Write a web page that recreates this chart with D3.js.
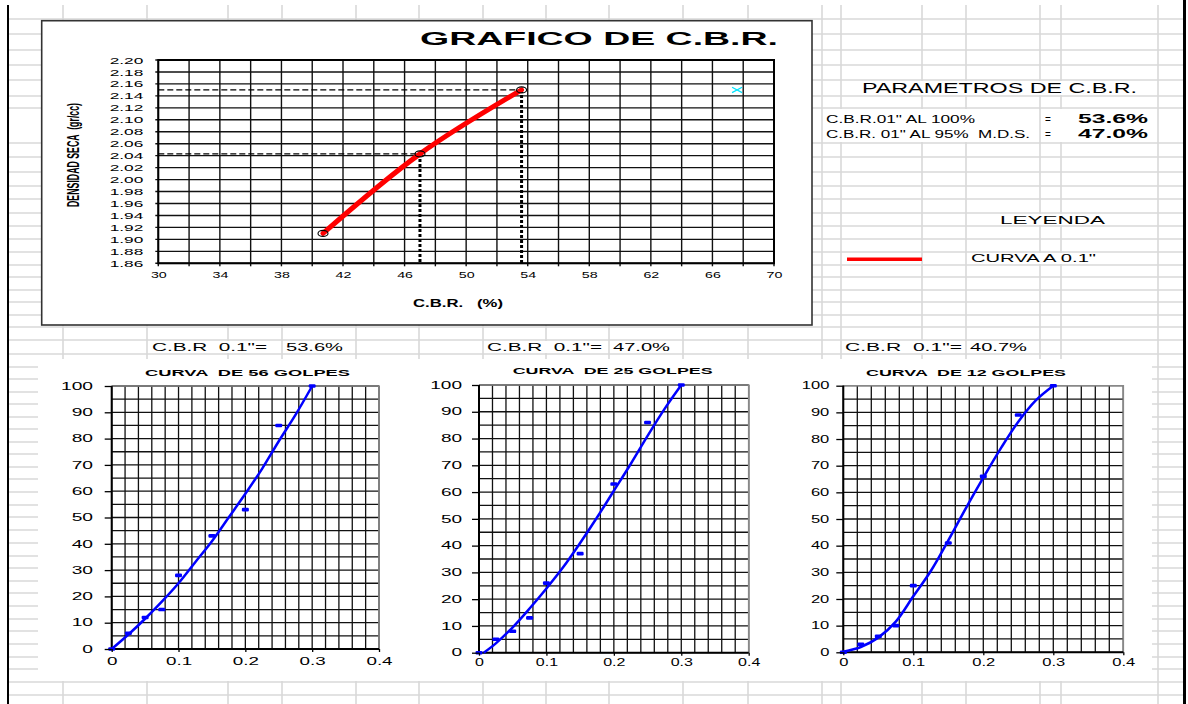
<!DOCTYPE html>
<html><head><meta charset="utf-8">
<script src="https://cdn.jsdelivr.net/npm/d3@7"></script>
<style>body{margin:0;background:#fff}svg{display:block}text{white-space:pre}</style>
</head><body>
<svg id="c" width="1188" height="704"></svg>
<script>
// ---------------- DATA ----------------
const cbrPoints = [40.7, 47.0, 53.6];          // C.B.R. (%) at 0.1"
const densityPoints = [1.910, 2.043, 2.150];   // densidad seca (gr/cc)
const cbr100 = 53.6, cbr95 = 47.0;
const densityMax = 2.150, density95 = 2.043;
const strayMarker = [67.6, 2.150];
const topXTicks = [30, 34, 38, 42, 46, 50, 54, 58, 62, 66, 70];
const topYTicks = [1.86, 1.88, 1.90, 1.92, 1.94, 1.96, 1.98, 2.00, 2.02, 2.04, 2.06, 2.08, 2.10, 2.12, 2.14, 2.16, 2.18, 2.20];

const penetration = [0, 0.025, 0.05, 0.075, 0.1, 0.15, 0.2, 0.25, 0.3];
const load56 = [0, 6, 12, 15, 28, 43, 53, 85, 100];
const load25 = [0, 5, 8, 13, 26, 37, 63, 86, 100];
const load12 = [0, 3, 6, 10, 25, 41, 66, 89, 100];

const fitX = [0, 0.025, 0.05, 0.075, 0.1, 0.125, 0.15, 0.175, 0.2, 0.225, 0.25, 0.275, 0.3];
const fitX25 = [0.007, 0.025, 0.05, 0.075, 0.1, 0.125, 0.15, 0.175, 0.2, 0.225, 0.25, 0.275, 0.3];
const fit56 = [0, 5.5, 11.5, 18, 25, 33, 41, 50, 59, 68.5, 79, 89, 100];
const fit25 = [0, 3.5, 9.5, 16.5, 24, 32, 41, 50.5, 60.5, 70.5, 81, 91, 100];
const fit12 = [0.2, 2, 5.5, 11.5, 21, 30.5, 42, 54, 65.5, 76.5, 86.5, 94.5, 100];

const bottomXTicks = [0, 0.1, 0.2, 0.3, 0.4];
const bottomYTicks = [0, 10, 20, 30, 40, 50, 60, 70, 80, 90, 100];
const cbrResults = ["53.6%", "47.0%", "40.7%"];
const golpes = ["56", "25", "12"];

// ---------------- LAYOUT ----------------
const FONT = '"Liberation Sans", Arial, Helvetica, sans-serif';
const sheetCols = [63,147,228,282,356,419,483,546,609,683,748,822,841,922,966,1040,1061,1158];
const sheetRows = [19,34,50,65,80,96,108,143,157,172,186,199,213,226,239,252,265,277,290,302,315,327,340,354,367,379,392,404,417,429,442,454,467,479,492,505,517,530,543,556,568,581,593,606,619,631,644,657,669,682,695];

const svg = d3.select('#c');

function fitW(sel, w) { return sel.attr('textLength', w).attr('lengthAdjust', 'spacingAndGlyphs'); }
function stretch(sel, k) {
  sel.each(function () {
    const w = this.getComputedTextLength();
    if (w > 0) { this.setAttribute('textLength', (w * k).toFixed(2)); this.setAttribute('lengthAdjust', 'spacingAndGlyphs'); }
  });
}
function label(x, y, txt, size, weight, w, anchor) {
  const t = svg.append('text').attr('x', x).attr('y', y).text(txt)
    .attr('font-size', size).attr('font-weight', weight || 'normal')
    .attr('font-family', FONT).attr('fill', '#000').attr('text-anchor', anchor || 'start');
  if (w) fitW(t, w);
  return t;
}

// ---------------- SHEET BACKGROUND ----------------
const sheet = svg.append('g');
sheet.selectAll('line.c').data(sheetCols).join('line')
  .attr('x1', d => d).attr('x2', d => d).attr('y1', 5).attr('y2', 704)
  .attr('stroke', '#d9d9d9').attr('stroke-width', 1.6);
sheet.selectAll('line.r').data(sheetRows).join('line')
  .attr('x1', 8).attr('x2', 1183).attr('y1', d => d).attr('y2', d => d)
  .attr('stroke', '#d9d9d9').attr('stroke-width', 1.6);

// cell text backgrounds (overflow text hides grid)
[[842, 81, 315, 14], [823, 109, 334, 33], [967, 214, 190, 11], [967, 253, 190, 11],
 [148, 341, 133, 12], [484, 341, 124, 12], [842, 341, 123, 12]].forEach(r => {
  svg.append('rect').attr('x', r[0]).attr('y', r[1]).attr('width', r[2]).attr('height', r[3]).attr('fill', '#fff');
});
svg.append('line').attr('x1', 1040).attr('x2', 1040).attr('y1', 108).attr('y2', 143)
  .attr('stroke', '#d9d9d9').attr('stroke-width', 1.6);

// chart objects
svg.append('rect').attr('x', 41.7).attr('y', 20.7).attr('width', 770.3).attr('height', 304.3)
  .attr('fill', '#fff').attr('stroke', '#333').attr('stroke-width', 1.6);
svg.append('rect').attr('x', 38).attr('y', 359).attr('width', 1114).attr('height', 322).attr('fill', '#fff');

// sheet edges
svg.append('line').attr('x1', 8).attr('x2', 8).attr('y1', 5).attr('y2', 704).attr('stroke', '#000').attr('stroke-width', 2);
svg.append('line').attr('x1', 1184.5).attr('x2', 1184.5).attr('y1', 0).attr('y2', 704).attr('stroke', '#000').attr('stroke-width', 3);

// ---------------- TOP CHART ----------------
const T = { l: 158.3, r: 774, t: 60, b: 263.3 };
const xT = d3.scaleLinear().domain([30, 70]).range([T.l, T.r]);
const yT = d3.scaleLinear().domain([1.86, 2.20]).range([T.b, T.t]);
const topG = svg.append('g');
topG.selectAll('line.v').data(xT.ticks(20)).join('line')
  .attr('x1', d => xT(d)).attr('x2', d => xT(d)).attr('y1', T.t).attr('y2', T.b + 3)
  .attr('stroke', '#111').attr('stroke-width', 1.4);
topG.selectAll('line.h').data(yT.ticks(17)).join('line')
  .attr('x1', T.l - 3).attr('x2', T.r).attr('y1', d => yT(d)).attr('y2', d => yT(d))
  .attr('stroke', '#111').attr('stroke-width', 1.4);
topG.append('rect').attr('x', T.l).attr('y', T.t).attr('width', T.r - T.l).attr('height', T.b - T.t)
  .attr('fill', 'none').attr('stroke', '#000').attr('stroke-width', 2);

const yAxT = svg.append('g').attr('transform', `translate(${T.l},0)`)
  .call(d3.axisLeft(yT).tickValues(topYTicks).tickFormat(d3.format('.2f')).tickSize(0).tickPadding(15));
yAxT.select('.domain').remove();
yAxT.selectAll('text').attr('font-size', 9.5).attr('font-family', FONT).attr('fill', '#000').call(stretch, 1.82);

const xAxT = svg.append('g').attr('transform', `translate(0,${T.b})`)
  .call(d3.axisBottom(xT).tickValues(topXTicks).tickFormat(d3.format('d')).tickSize(0).tickPadding(7.5));
xAxT.select('.domain').remove();
xAxT.selectAll('text').attr('font-size', 9.5).attr('font-family', FONT).attr('fill', '#000').call(stretch, 1.5);

// reference lines
topG.append('line').attr('x1', T.l).attr('x2', xT(cbr100)).attr('y1', yT(densityMax)).attr('y2', yT(densityMax))
  .attr('stroke', '#000').attr('stroke-width', 1.2).attr('stroke-dasharray', '6,3');
topG.append('line').attr('x1', T.l).attr('x2', xT(cbr95)).attr('y1', yT(density95)).attr('y2', yT(density95))
  .attr('stroke', '#000').attr('stroke-width', 1.2).attr('stroke-dasharray', '6,3');
topG.append('line').attr('x1', xT(cbr95)).attr('x2', xT(cbr95)).attr('y1', yT(density95)).attr('y2', T.b)
  .attr('stroke', '#000').attr('stroke-width', 3).attr('stroke-dasharray', '3,2');
topG.append('line').attr('x1', xT(cbr100)).attr('x2', xT(cbr100)).attr('y1', yT(densityMax)).attr('y2', T.b)
  .attr('stroke', '#000').attr('stroke-width', 3).attr('stroke-dasharray', '3,2');

// red curve
const topPts = cbrPoints.map((c, i) => [c, densityPoints[i]]);
topG.append('path').datum(topPts)
  .attr('d', d3.line().x(d => xT(d[0])).y(d => yT(d[1])).curve(d3.curveCatmullRom.alpha(0.5)))
  .attr('fill', 'none').attr('stroke', '#ff0000').attr('stroke-width', 5).attr('stroke-linecap', 'round');
topG.selectAll('ellipse').data(topPts).join('ellipse')
  .attr('cx', d => xT(d[0])).attr('cy', d => yT(d[1])).attr('rx', 5).attr('ry', 3)
  .attr('fill', 'none').attr('stroke', '#000').attr('stroke-width', 1.1);
// stray cyan marker
const sx = xT(strayMarker[0]), sy = yT(strayMarker[1]);
topG.append('path').attr('d', `M${sx - 5},${sy - 2.7}L${sx + 5},${sy + 2.7}M${sx - 5},${sy + 2.7}L${sx + 5},${sy - 2.7}`)
  .attr('stroke', '#00e5ff').attr('stroke-width', 1.2).attr('fill', 'none');

// titles
label(420, 45, 'GRAFICO DE C.B.R.', 18.6, 'bold', 358);
label(413, 307.3, 'C.B.R.   (%)', 10, 'bold', 90);
label(0, 0, 'DENSIDAD SECA  (gr/cc)', 17, 'bold', 104, 'middle')
  .attr('transform', 'translate(79,155) rotate(-90)');

// ---------------- RIGHT PANEL ----------------
label(862, 93, 'PARAMETROS DE C.B.R.', 14, 'normal', 275);
label(826, 122.7, 'C.B.R.01" AL 100%', 10, 'normal', 149);
label(1045, 122.7, '=', 10, 'normal');
label(1078, 123.3, cbrResults[0], 12.6, 'bold', 70);
label(826, 138.3, 'C.B.R. 01" AL 95%  M.D.S.', 10, 'normal', 204);
label(1045, 138.3, '=', 10, 'normal');
label(1078, 138.3, cbrResults[1], 12.6, 'bold', 70);
label(1000, 224, 'LEYENDA', 11.7, 'normal', 105);
svg.append('line').attr('x1', 847).attr('x2', 922).attr('y1', 259.3).attr('y2', 259.3)
  .attr('stroke', '#ff0000').attr('stroke-width', 3.4);
label(971, 262.3, 'CURVA A 0.1"', 10, 'normal', 125);

// ---------------- BOTTOM CHARTS ----------------
const charts = [
  { l: 111.7, r: 379, t: 386, b: 649, load: load56, fx: fitX, fit: fit56, titleX: 145, titleW: 205, titleY: 375.5,
    cbrX: 152, cbrW: 115, valX: 286, yPad: 11.7, yK: 1.92, xK: 1.88, xLabY: 661 },
  { l: 479, r: 748.7, t: 385, b: 652.7, load: load25, fx: fitX25, fit: fit25, titleX: 512.7, titleW: 200, titleY: 373.5,
    cbrX: 487, cbrW: 115, valX: 613, yPad: 10, yK: 1.9, xK: 1.6, xLabY: 662.3 },
  { l: 843.3, r: 1123.3, t: 385.7, b: 652.3, load: load12, fx: fitX, fit: fit12, titleX: 866, titleW: 200, titleY: 375.5,
    cbrX: 845, cbrW: 117, valX: 970, yPad: 7, yK: 1.65, xK: 1.65, xLabY: 662.3 }
];

charts.forEach((cfg, i) => {
  const x = d3.scaleLinear().domain([0, 0.4]).range([cfg.l, cfg.r]);
  const y = d3.scaleLinear().domain([0, 100]).range([cfg.b, cfg.t]);
  const g = svg.append('g');
  g.selectAll('line.v').data(x.ticks(20)).join('line')
    .attr('x1', d => x(d)).attr('x2', d => x(d)).attr('y1', cfg.t).attr('y2', cfg.b)
    .attr('stroke', '#111').attr('stroke-width', 1.3);
  g.selectAll('line.h').data(y.ticks(20)).join('line')
    .attr('x1', cfg.l).attr('x2', cfg.r).attr('y1', d => y(d)).attr('y2', d => y(d))
    .attr('stroke', '#111').attr('stroke-width', 1.3);
  g.append('path').attr('d', `M${cfg.l},${cfg.t}H${cfg.r}V${cfg.b}`)
    .attr('fill', 'none').attr('stroke', '#888').attr('stroke-width', 1.6);
  g.append('path').attr('d', `M${cfg.l},${cfg.t}V${cfg.b}H${cfg.r}`)
    .attr('fill', 'none').attr('stroke', '#000').attr('stroke-width', 2);

  const ya = svg.append('g').attr('transform', `translate(${cfg.l},0)`)
    .call(d3.axisLeft(y).tickValues(bottomYTicks).tickFormat(d3.format('d')).tickSize(7).tickPadding(cfg.yPad));
  ya.select('.domain').remove();
  ya.selectAll('line').attr('stroke', '#000').attr('stroke-width', 1.3);
  ya.selectAll('text').attr('font-size', 10).attr('font-family', FONT).attr('fill', '#000').call(stretch, cfg.yK);

  const xPad = cfg.xLabY + 3.6 - cfg.b - 3 - 7.1;
  const xa = svg.append('g').attr('transform', `translate(0,${cfg.b})`)
    .call(d3.axisBottom(x).tickValues(bottomXTicks).tickFormat(d3.format('~g')).tickSize(3).tickPadding(xPad));
  xa.select('.domain').remove();
  xa.selectAll('line').attr('stroke', '#000').attr('stroke-width', 1.3);
  xa.selectAll('text').attr('font-size', 10).attr('font-family', FONT).attr('fill', '#000').call(stretch, cfg.xK);

  // fitted curve
  const fitPts = cfg.fx.map((v, j) => [v, cfg.fit[j]]);
  g.append('path').datum(fitPts)
    .attr('d', d3.line().x(d => x(d[0])).y(d => y(d[1])).curve(d3.curveCatmullRom.alpha(0.5)))
    .attr('fill', 'none').attr('stroke', '#0000ff').attr('stroke-width', 2.5);
  // measured points
  const pts = penetration.map((p, j) => [p, cfg.load[j]]);
  g.selectAll('rect.m').data(pts).join('rect')
    .attr('x', d => x(d[0]) - 3.5).attr('y', d => y(d[1]) - 1.8).attr('width', 7).attr('height', 3.6)
    .attr('rx', 1.2).attr('fill', '#0000ff');

  label(cfg.titleX, cfg.titleY, `CURVA  DE ${golpes[i]} GOLPES`, 9.5, 'bold', cfg.titleW);
  label(cfg.cbrX, 350.7, 'C.B.R  0.1"=', 10, 'normal', cfg.cbrW);
  label(cfg.valX, 350.7, cbrResults[i], 10, 'normal', 57);
});
</script>
</body></html>
